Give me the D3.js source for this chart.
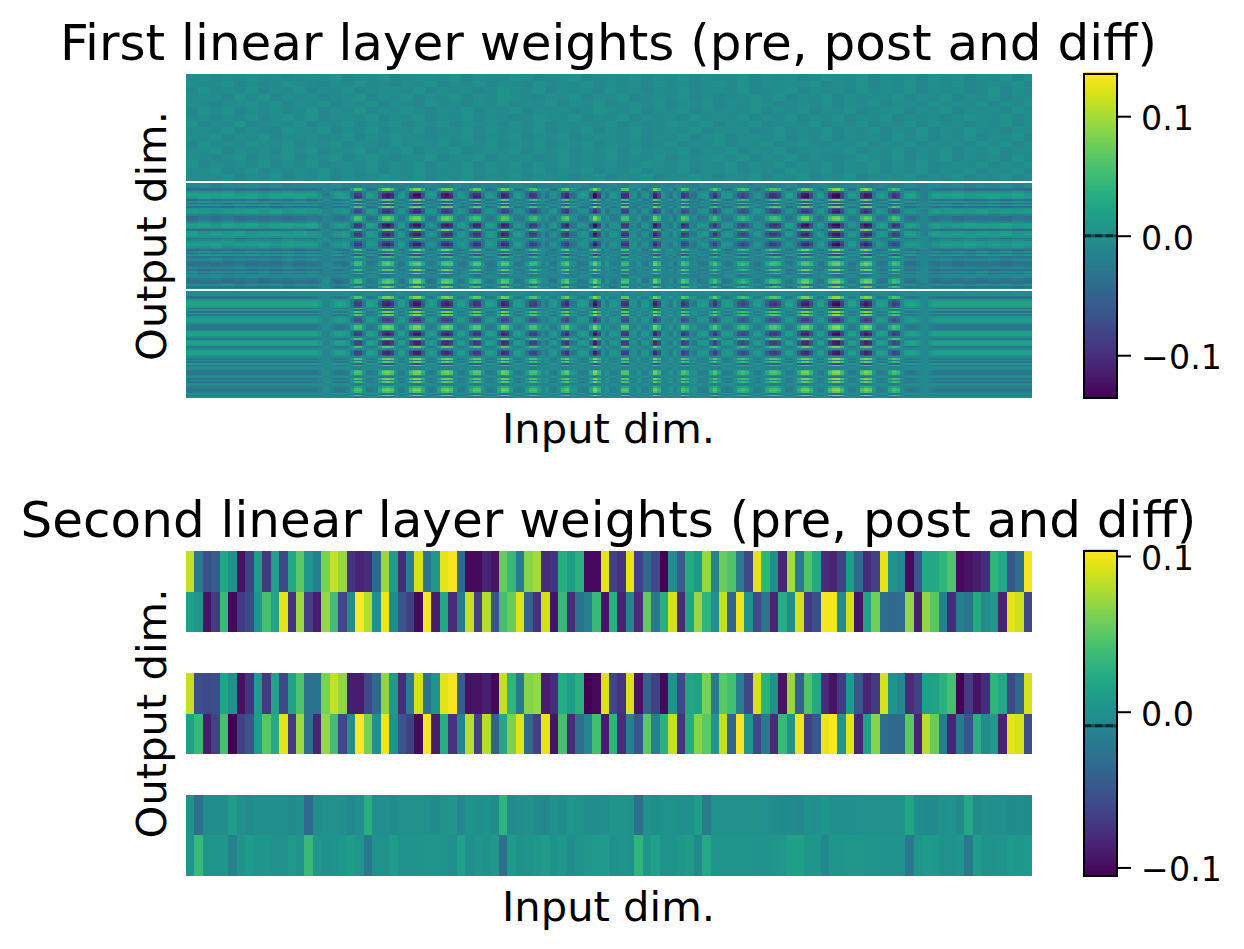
<!DOCTYPE html>
<html>
<head>
<meta charset="utf-8">
<script src="https://cdn.jsdelivr.net/npm/d3@7"></script>
<style>
  html, body { margin: 0; background: #fff; }
  svg { display: block; }
  text { font-family: "DejaVu Sans", sans-serif; fill: #000; }
</style>
</head>
<body>
<svg id="chart" width="1244" height="949"></svg>
<script>
// First layer. Single weights are too fine to read, so:
// firstRowLoad / firstColLoad are the row bands and column stripes of the diff block,
// firstPreShades is a coarse estimate of local shade in the pre block (digits 0-9),
// one digit for 3 columns x 4 rows. The fine grain of the original is not reproduced.
const firstRowLoad = [
  .1, .1, .1, -.8, -.8, .5, .9, 1, 1, .7,
  -.7, .4, -.8, .5, -.8, .4, .7, .8, .6, -.2,
  -.7, -.8, -.7, 0, .8, 1, .9, .2, -.8, .6,
  .9, .9, .6, -.7, 0, .6, .9, .9, .5, 0,
  -.8, .2, -.7, .6, -.6, .1, .1, -.6, -.8, -.7,
  -.1, .2, -.8, .1, -.7, .2, .1, -.4, -.7, -.8,
  -.6, .3, -.8, .2
];
const firstColLoad = [
  .03, .03, .03, .03, .03, .03, .03, .03, .03, .03,
  .03, .03, .03, .03, .03, .03, .03, .03, .03, .03,
  .03, .03, .03, .03, .03, .03, .03, .03, .03, .03,
  .03, .03, .03, .018, -.004, -.006, .012, .026, .03, .027,
  .018, -.03, -.085, -.08, -.02, .027, .027, .016, -.05, -.1,
  -.11, -.09, -.015, .024, .027, -.01, -.08, -.115, -.115, -.06,
  .012, .027, .016, -.04, -.1, -.11, -.09, -.01, .024, .024,
  0, -.06, -.095, -.09, -.02, .024, .027, .016, -.05, -.105,
  -.095, -.03, .02, .027, .012, -.03, -.08, -.085, -.04, 0,
  -.02, .016, .024, -.01, -.075, -.1, -.03, -.02, .016, .024,
  .016, -.05, -.12, -.07, .012, -.02, .016, .02, .004, -.09,
  -.09, .004, .012, -.02, .016, .02, -.02, -.11, -.07, .01,
  0, -.02, .018, -.01, -.09, -.07, -.01, -.02, .018, .02,
  .016, -.05, -.09, -.04, .016, .024, .02, -.015, -.06, -.08,
  -.06, -.01, .018, .024, 0, -.05, -.085, -.09, -.07, -.01,
  .024, .027, 0, -.06, -.105, -.11, -.07, -.005, .024, .027,
  -.01, -.085, -.12, -.125, -.08, -.01, .027, .027, 0, -.09,
  -.115, -.1, -.02, .024, .027, .018, -.05, -.085, -.07, -.005,
  .024, .03, .03, .02, .002, -.002, .016, .027, .03, .03,
  .03, .03, .03, .03, .03, .03, .03, .03, .03, .03,
  .03, .03, .03, .03, .03, .03, .03, .03, .03, .03,
  .03, .03
];
const firstDiffOffset = -0.008;
const firstPreShades = [
  "45354645345463546345546354465345634546354635446354534654635453645354635",
  "54463534654354645354635463543645463545364535646345546354635463546345463",
  "36454635463546345546354534654635453645354635546345635453645463545346354",
  "45536463545345635463546354654354635463454635345646354635454635463546345",
  "54345646354635463543645354635463546345463546354653454635463543645463546",
  "36463545346354635464354635463545346546354635454635463546345635463545364",
  "45354635646345463546354635434654635463545364546354635463546354534654635",
  "63546345463546354635463545364635454635346546354634546354635463645354635",
  "45463543654635463546345636454635463546345463545346354635463546354645354",
  "54635463545346354654354635463546345546354635634546354635453646354635463",
  "36454654635463543645463546354635463545346354635463564354635463545364635",
  "45635453646354635463546345463546354636454635463546345546354635463546345",
  "54346354635463564354635463545346354635463545646354635434654635463545364",
  "63545463546345463546354635463546354534654635463546354635463546345463546",
  "45634635454635463546345636454635463546354635463543654635463546354635463",
  "54463546354635346546354635463545346354635464354635463546345463546354635"
];

// Second layer: 100 input dims, two output rows in each block
const secondPreA = [
  .085, -.02, -.055, -.045, .02, 0, -.095, -.065, .01, -.07,
  .012, -.06, .02, .05, .005, -.015, .06, .085, .07, -.075,
  -.085, -.08, -.035, .07, .01, -.08, -.015, .09, -.025, .005,
  .095, .1, -.035, -.1, -.1, -.085, -.095, .055, .035, -.02,
  .065, .075, -.08, -.075, .025, .01, .028, -.1, -.1, .095,
  -.065, -.075, .095, -.065, -.035, -.06, -.105, -.005, -.045, .022,
  .005, .07, -.015, .055, .045, -.02, -.06, .095, .03, 0,
  -.085, .075, -.02, .045, .02, -.08, -.085, -.065, .01, -.035,
  -.08, -.065, .095, 0, -.01, -.1, -.05, .02, .02, .03,
  .045, -.1, -.095, -.09, -.08, .03, .02, -.05, -.03, .1
];
const secondPreB = [
  .012, .005, -.095, -.07, .035, -.1, -.07, -.06, .003, .042,
  .018, .095, -.075, .072, -.065, -.09, .07, .04, -.06, -.005,
  .105, .08, 0, .098, -.005, -.05, -.065, -.1, .1, -.09,
  .02, -.08, -.02, .085, -.065, .08, -.05, .04, .055, .092,
  -.04, -.075, .09, -.095, .035, -.08, -.025, -.015, .035, -.095,
  .028, -.085, -.012, -.08, .052, -.022, .025, .09, -.08, .015,
  .07, .03, 0, .085, -.04, .098, 0, -.06, -.025, -.085,
  .025, -.005, .09, -.07, -.055, .1, .1, -.005, .088, -.095,
  .012, .058, -.03, -.035, -.033, .068, -.09, .068, .048, -.015,
  -.08, -.018, -.025, .022, -.005, .005, -.085, .095, .088, -.06
];
const secondPostA = [
  .085, -.055, -.06, -.055, .018, 0, -.097, -.075, .008, -.072,
  .015, -.06, .015, .045, -.028, -.025, .06, .085, .068, -.09,
  -.09, -.06, -.035, .068, .008, -.08, -.018, .09, -.028, 0,
  .093, .1, -.045, -.095, -.095, -.088, -.102, .085, .03, -.022,
  .065, .07, -.09, -.08, .022, .01, .028, -.105, -.1, .092,
  -.062, -.075, .092, -.095, -.04, -.065, -.1, 0, -.06, .017,
  .015, .06, -.02, .05, .04, -.018, -.062, .09, .028, 0,
  -.095, .07, -.04, .045, .02, -.08, -.095, -.07, .008, -.05,
  -.085, -.07, .09, .002, -.01, -.08, -.065, .012, .015, .028,
  .042, -.105, -.07, -.095, -.08, .03, .02, -.06, -.035, .09
];
const secondPostB = [
  .015, .035, -.09, -.065, .042, -.105, -.065, -.05, .01, .048,
  .022, .095, -.07, .072, -.03, -.085, .07, .04, -.06, -.002,
  .105, .06, 0, .098, 0, -.05, -.065, -.1, .1, -.09,
  .025, -.075, -.012, .08, -.065, .08, -.04, .02, .062, .093,
  -.035, -.065, .095, -.095, .042, -.08, -.03, -.01, .04, -.09,
  .03, -.08, -.018, -.05, .05, -.015, .028, .085, -.075, .022,
  .065, .05, .005, .085, -.04, .1, .005, -.06, -.02, -.08,
  .035, .002, .098, -.065, -.05, .097, .105, .003, .093, -.085,
  .012, .065, -.03, -.035, -.035, .05, -.085, .08, .055, -.018,
  -.085, -.02, -.05, .028, -.005, .008, -.085, .095, .09, -.055
];
const secondDiffA = [
  0, -.03, -.003, -.003, -.003, .01, -.002, -.005, -.002, -.002,
  -.002, -.002, -.006, -.002, -.035, -.003, -.001, -.001, -.002, -.008,
  -.002, .025, -.002, -.002, -.006, -.001, -.001, -.001, -.002, -.005,
  -.001, .003, -.01, .001, -.002, 0, -.006, .03, -.006, -.002,
  -.001, -.005, -.007, -.001, -.004, .003, 0, -.003, -.003, -.002,
  .004, .002, 0, -.03, .001, -.003, 0, 0, -.002, -.002,
  .01, -.02, -.001, -.001, -.001, -.001, -.001, -.001, -.002, -.003,
  -.005, -.006, -.007, .001, -.002, .005, -.002, -.002, -.002, -.002,
  -.001, -.001, -.001, -.001, .001, .018, -.003, -.006, -.006, 0,
  .002, -.005, .02, -.005, -.001, -.002, -.002, -.005, -.003, -.005
];
const secondDiffB = [
  .002, .035, .003, .003, .003, -.012, .002, .008, .004, .004,
  -.001, -.001, .007, .002, .035, .006, 0, .002, .005, .01,
  .003, -.022, 0, 0, .008, .002, .002, .002, .003, .003,
  .001, -.002, .012, -.002, .003, .001, .006, -.03, .008, .001,
  .002, .006, .009, 0, .005, -.003, .002, .006, .007, .008,
  -.002, .002, .001, .03, .004, .012, .001, .001, .005, .009,
  -.008, .02, .004, .004, .004, .004, .004, .002, .002, .003,
  .006, .012, .014, .003, .004, -.008, .004, .004, .006, .006,
  .004, .004, .002, .002, .002, -.022, .004, .008, .007, -.001,
  -.001, .003, -.022, .01, .002, .002, .003, .008, .005, .008
];

const titles = ["First linear layer weights (pre, post and diff)", "Second linear layer weights (pre, post and diff)"];
const firstRange = [-0.1358, 0.1353];
const secondRange = [-0.1055, 0.1032];
const cbarTicks = [-0.1, 0, 0.1];
const cbarMarks = [0, -0.009];   // dashed line on each colorbar

const svg = d3.select("#chart");

// digits of firstPreShades to weight values
const shadeToValue = d3.scaleLinear().domain([0, 9]).range([-0.022, 0.012]);

// flatten the first layer into cells: pre, post = pre + diff, diff
const firstCells = [];
firstRowLoad.forEach((load, r) => {
  firstColLoad.forEach((colLoad, c) => {
    const pre = shadeToValue(+firstPreShades[Math.floor(r / 4)][Math.floor(c / 3)]);
    const diff = load * colLoad + firstDiffOffset;
    firstCells.push({ row: r, col: c, value: pre });
    firstCells.push({ row: r + 65, col: c, value: pre + diff });
    firstCells.push({ row: r + 130, col: c, value: diff });
  });
});

const secondRows = [secondPreA, secondPreB, null, secondPostA, secondPostB, null, secondDiffA, secondDiffB];
const secondCells = secondRows.flatMap((vals, r) =>
  vals ? vals.map((value, c) => ({ row: r, col: c, value })) : []);

function drawPanel(opts) {
  const g = svg.append("g");
  const x = d3.scaleBand().domain(d3.range(opts.nCols)).range([186, 1032]);
  const y = d3.scaleBand().domain(d3.range(opts.nRows)).range([opts.top, opts.bottom]);
  const color = d3.scaleSequential(d3.interpolateViridis).domain(opts.range);

  g.append("g")
    .attr("shape-rendering", "crispEdges")
    .selectAll("rect")
    .data(opts.cells)
    .join("rect")
    .attr("x", d => x(d.col))
    .attr("y", d => y(d.row))
    .attr("width", x.bandwidth())
    .attr("height", y.bandwidth())
    .attr("fill", d => color(d.value));

  g.append("text")
    .attr("x", 608.5).attr("y", opts.top - 14)
    .attr("text-anchor", "middle")
    .attr("font-size", 50)
    .text(opts.title);

  g.append("text")
    .attr("x", 608.5).attr("y", opts.bottom + 45)
    .attr("text-anchor", "middle")
    .attr("font-size", 41.67)
    .text("Input dim.");

  g.append("text")
    .attr("transform", `translate(166,${(opts.top + opts.bottom) / 2}) rotate(-90)`)
    .attr("text-anchor", "middle")
    .attr("font-size", 41.67)
    .text("Output dim.");

  // colorbar
  const cy = d3.scaleLinear().domain(opts.range).range([opts.bottom, opts.top]);
  const levels = d3.range(256).map(i => opts.range[0] + (opts.range[1] - opts.range[0]) * i / 255);
  const cb = g.append("g");
  cb.append("g")
    .attr("shape-rendering", "crispEdges")
    .selectAll("rect")
    .data(levels)
    .join("rect")
    .attr("x", 1084).attr("width", 33)
    .attr("y", d => cy(d) - (opts.bottom - opts.top) / 256 - 0.3)
    .attr("height", (opts.bottom - opts.top) / 256 + 0.6)
    .attr("fill", d => color(d));

  cb.append("line")
    .attr("x1", 1084).attr("x2", 1117)
    .attr("y1", cy(opts.mark)).attr("y2", cy(opts.mark))
    .attr("stroke", "#000").attr("stroke-opacity", 0.45).attr("stroke-width", 3);
  cb.append("line")
    .attr("x1", 1084).attr("x2", 1117)
    .attr("y1", cy(opts.mark)).attr("y2", cy(opts.mark))
    .attr("stroke", "#000").attr("stroke-opacity", 0.5).attr("stroke-width", 3)
    .attr("stroke-dasharray", "7,4");

  cb.append("rect")
    .attr("x", 1084).attr("y", opts.top)
    .attr("width", 33).attr("height", opts.bottom - opts.top)
    .attr("fill", "none").attr("stroke", "#000").attr("stroke-width", 2);

  const axis = d3.axisRight(cy)
    .tickValues(cbarTicks)
    .tickFormat(d3.format(".1f"))
    .tickSize(14)
    .tickPadding(10);
  const ag = g.append("g").attr("transform", "translate(1117,0)").call(axis);
  ag.select(".domain").remove();
  ag.selectAll(".tick line").attr("stroke", "#000").attr("stroke-width", 2);
  ag.selectAll(".tick text")
    .attr("font-size", 33.33)
    .attr("font-family", "DejaVu Sans")
    .attr("fill", "#000")
    .attr("dy", "0.4em");
}

drawPanel({
  title: titles[0], cells: firstCells, nCols: firstColLoad.length, nRows: 194,
  top: 74, bottom: 398, range: firstRange, mark: cbarMarks[0]
});
drawPanel({
  title: titles[1], cells: secondCells, nCols: secondPreA.length, nRows: secondRows.length,
  top: 551, bottom: 876, range: secondRange, mark: cbarMarks[1]
});
</script>
</body>
</html>
